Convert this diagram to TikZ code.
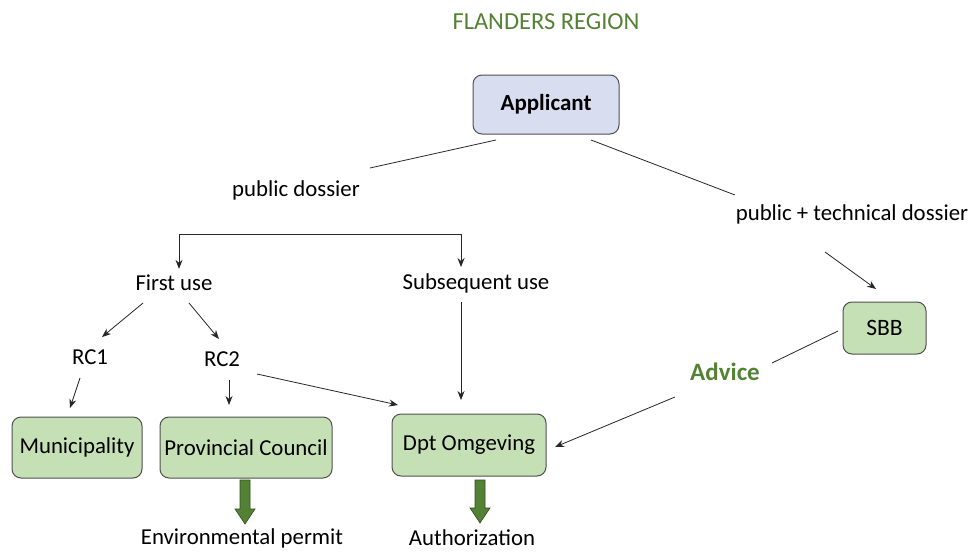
\documentclass[tikz,border=0pt]{standalone}
\usepackage{fontspec}
\setmainfont{Carlito}
\usetikzlibrary{arrows.meta,shapes.arrows}
\definecolor{fgreen}{HTML}{548235}
\definecolor{boxgreen}{HTML}{C5E0B4}
\definecolor{boxblue}{HTML}{D9DDF0}
\definecolor{edgegray}{HTML}{505050}
\tikzset{
  lbl/.style={font=\fontsize{22.8}{25}\selectfont, inner sep=0pt, anchor=center},
  box/.style={draw=edgegray, line width=1pt, rounded corners=9pt, fill=boxgreen, inner sep=0pt, font=\fontsize{22.8}{25}\selectfont},
  conn/.style={line width=0.8pt, black!85},
  arr/.style={conn, -{Stealth[length=9pt,width=7pt]}},
  bigarr/.style={draw=fgreen!60!black, fill=fgreen, line width=0.6pt}
}
\begin{document}
\begin{tikzpicture}[x=1pt,y=-1pt]
\useasboundingbox (0,0) rectangle (968,551);
\node[lbl, text=fgreen, font=\fontsize{24.5}{27}\selectfont] (title) at (546,22) {FLANDERS REGION};
\node[box, fill=boxblue, minimum width=146pt, minimum height=59pt, font=\fontsize{23}{25}\selectfont\bfseries] (app) at (546,104.5) {Applicant};
\node[lbl] (pubd) at (296,190) {public dossier};
\node[lbl] (ptd) at (852,214) {public + technical dossier};
\node[lbl] (first) at (174,283) {First use};
\node[lbl] (subs) at (476,283) {Subsequent use};
\node[lbl] (rc1) at (90,357) {RC1};
\node[lbl] (rc2) at (222,359) {RC2};
\node[box, minimum width=130pt, minimum height=61pt] (mun) at (77,447.5) {Municipality};
\node[box, minimum width=172pt, minimum height=61pt] (prov) at (246,447.5) {Provincial Council};
\node[box, minimum width=154pt, minimum height=62pt] (dpt) at (469,445) {Dpt Omgeving};
\node[box, minimum width=83pt, minimum height=52pt, font=\fontsize{23.5}{25}\selectfont] (sbb) at (884.5,328) {SBB};
\node[lbl, text=fgreen, font=\fontsize{25}{27}\selectfont\bfseries] (adv) at (725,372) {Advice};
\node[lbl] (env) at (242,538) {Environmental permit};
\node[lbl] (auth) at (472,538) {Authorization};

\coordinate (a1) at (496,140);
\coordinate (a2) at (370,168);
\coordinate (b1) at (591,140);
\coordinate (b2) at (735,195);
\draw[conn] (a1) -- (a2);
\draw[conn] (b1) -- (b2);
\coordinate (br) at (320,234);
\draw[arr] (br) -| ([yshift=6pt]first.north -| 179,0);
\draw[arr] (br) -| ([yshift=6pt]subs.north -| 461,0);
\draw[arr] (143,303) -- (102,337);
\draw[arr] (189,303) -- (219,339);
\draw[arr] (80,378) -- (70,408);
\draw[arr] (229,380) -- (229,405);
\draw[arr] (257,374) -- (398,405);
\draw[arr] (461,302) -- (461,400);
\draw[arr] (825,252) -- (876,289);
\draw[conn] (838,331) -- (772,363);
\draw[arr] (675,397) -- (555,447);
\path[bigarr] (240,480) -- (250,480) -- (250,509) -- (255,509) -- (245,524) -- (235,509) -- (240,509) -- cycle;
\path[bigarr] (475,480) -- (485,480) -- (485,508) -- (490,508) -- (480,523) -- (470,508) -- (475,508) -- cycle;
\end{tikzpicture}
\end{document}
